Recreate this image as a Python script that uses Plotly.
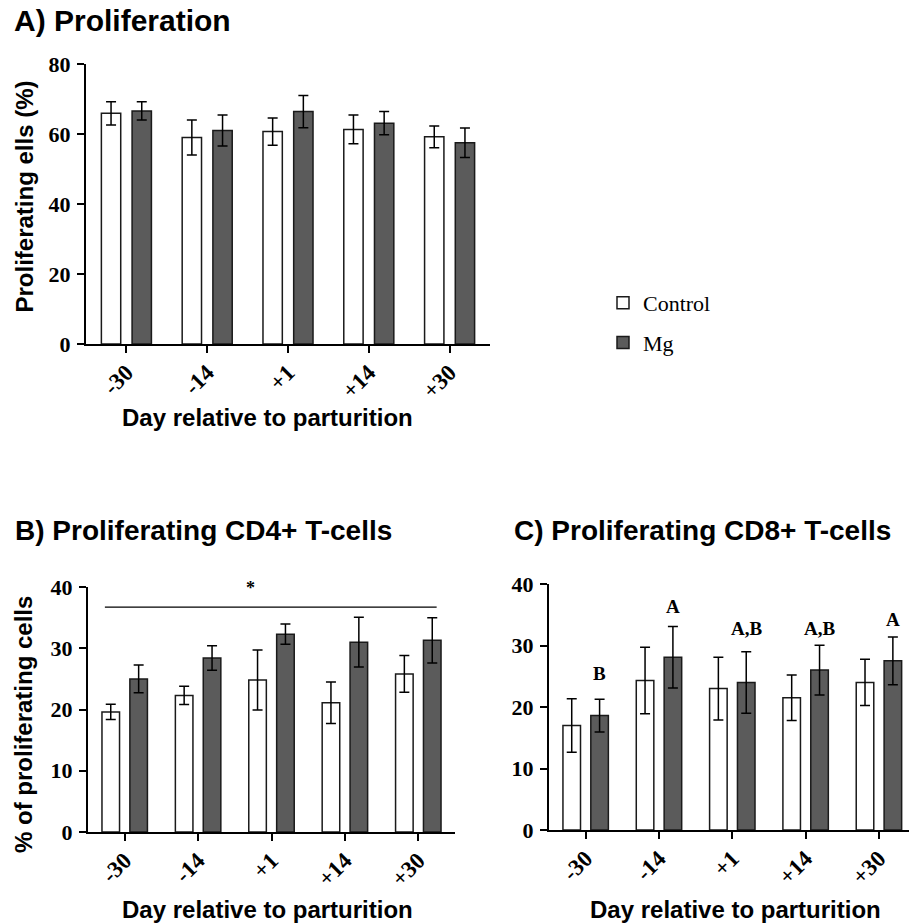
import plotly.graph_objects as go

# ---------------- data ----------------
days = ["-30", "-14", "+1", "+14", "+30"]

a_control = [65.9, 59.0, 60.7, 61.3, 59.2]
a_control_err = [3.3, 5.0, 3.9, 4.1, 3.1]
a_mg = [66.6, 61.0, 66.4, 63.1, 57.5]
a_mg_err = [2.6, 4.4, 4.6, 3.3, 4.2]

b_control = [19.6, 22.3, 24.8, 21.1, 25.8]
b_control_err = [1.25, 1.5, 4.9, 3.4, 3.0]
b_mg = [25.0, 28.4, 32.3, 31.0, 31.3]
b_mg_err = [2.25, 2.0, 1.65, 4.05, 3.7]

c_control = [17.0, 24.3, 23.0, 21.5, 24.0]
c_control_err = [4.35, 5.4, 5.1, 3.7, 3.75]
c_mg = [18.6, 28.1, 24.0, 26.0, 27.5]
c_mg_err = [2.65, 5.0, 5.0, 4.05, 3.9]

c_letters = ["B", "A", "A,B", "A,B", "A"]
c_letter_y = [25.5, 36.3, 32.8, 32.8, 34.3]

a_yticks = [0, 20, 40, 60, 80]
bc_yticks = [0, 10, 20, 30, 40]

sig_line = dict(x0=-0.27, x1=4.25, y=36.7)
sig_star = dict(x=1.71, y=39.8, text="*")

# ---------------- style ----------------
W, H = 909, 924
SANS = "Liberation Sans"
SERIF = "Liberation Serif"
MG_COLOR = "#5b5b5b"
EDGE = "#1a1a1a"


def px_x(p):
    return p / W


def px_y(p):
    return 1 - p / H


fig = go.Figure()


def add_pair(ctrl, ctrl_err, mg, mg_err, xa, ya, showlegend):
    fig.add_trace(go.Bar(
        x=days, y=ctrl, name="Control", legendgroup="control",
        showlegend=showlegend, xaxis=xa, yaxis=ya,
        marker=dict(color="white", line=dict(color=EDGE, width=1.5)),
        error_y=dict(type="data", array=ctrl_err, visible=True,
                     color="black", thickness=1.5, width=5),
    ))
    fig.add_trace(go.Bar(
        x=days, y=mg, name="Mg", legendgroup="mg",
        showlegend=showlegend, xaxis=xa, yaxis=ya,
        marker=dict(color=MG_COLOR, line=dict(color=EDGE, width=1.5)),
        error_y=dict(type="data", array=mg_err, visible=True,
                     color="black", thickness=1.5, width=5),
    ))


add_pair(a_control, a_control_err, a_mg, a_mg_err, "x", "y", True)
add_pair(b_control, b_control_err, b_mg, b_mg_err, "x2", "y2", False)
add_pair(c_control, c_control_err, c_mg, c_mg_err, "x3", "y3", False)

xtick_font = dict(family=SERIF, size=23, color="black", weight="bold")
ytick_font = dict(family=SERIF, size=22, color="black", weight="bold")

xcommon = dict(type="category", showline=True, linecolor="black", linewidth=2,
               ticks="outside", ticklen=7, tickwidth=2, tickcolor="black",
               tickangle=-45, tickfont=xtick_font, showgrid=False, zeroline=False,
               fixedrange=True, automargin=False, ticklabelstandoff=-3)
ycommon = dict(showline=True, linecolor="black", linewidth=2,
               ticks="outside", ticklen=7, tickwidth=2, tickcolor="black",
               tickfont=ytick_font, showgrid=False, zeroline=False,
               fixedrange=True, ticklabelstandoff=2, automargin=False)

fig.update_layout(
    width=W, height=H,
    margin=dict(l=0, r=0, t=0, b=0, autoexpand=False),
    paper_bgcolor="white", plot_bgcolor="white",
    barmode="group", bargap=0.24, bargroupgap=0.37,
    xaxis=dict(domain=[px_x(86), px_x(490)], anchor="y", range=[-0.5, 4.5], **xcommon),
    yaxis=dict(domain=[px_y(344), px_y(64)], anchor="x", range=[0, 80],
               tickvals=a_yticks, **ycommon),
    xaxis2=dict(domain=[px_x(88), px_x(455)], anchor="y2", range=[-0.5, 4.5], **xcommon),
    yaxis2=dict(domain=[px_y(832), px_y(587)], anchor="x2", range=[0, 40],
                tickvals=bc_yticks, **ycommon),
    xaxis3=dict(domain=[px_x(549), 1.0], anchor="y3", range=[-0.5, 4.41], **xcommon),
    yaxis3=dict(domain=[px_y(830), px_y(584)], anchor="x3", range=[0, 40],
                tickvals=bc_yticks, **ycommon),
    legend=dict(x=px_x(603), y=px_y(282), xanchor="left", yanchor="top",
                font=dict(family=SERIF, size=22, color="black"),
                tracegroupgap=8, bgcolor="rgba(0,0,0,0)"),
    showlegend=True,
)

annotations = []

# panel titles
for text, x, y, sz in [("A) Proliferation", 12, 21, 30),
                       ("B) Proliferating CD4+ T-cells", 13, 530, 28),
                       ("C) Proliferating CD8+ T-cells", 512, 530, 28)]:
    annotations.append(dict(text=text, x=px_x(x), y=px_y(y), xref="paper", yref="paper",
                            xanchor="left", yanchor="middle", showarrow=False,
                            font=dict(family=SANS, size=sz, color="black", weight="bold")))

# axis titles
for text, x, y, ang, ya in [("Proliferating ells (%)", 24, 196.5, -90, "middle"),
                            ("% of proliferating cells", 23, 725, -90, "middle"),
                            ("Day relative to parturition", 267.5, 418, 0, "middle"),
                            ("Day relative to parturition", 267, 924, 0, "bottom"),
                            ("Day relative to parturition", 735, 924, 0, "bottom")]:
    annotations.append(dict(text=text, x=px_x(x), y=px_y(y), xref="paper", yref="paper",
                            xanchor="center", yanchor=ya, textangle=ang,
                            showarrow=False, borderpad=0,
                            font=dict(family=SANS, size=24, color="black", weight="bold")))

# significance star (panel B)
annotations.append(dict(text=sig_star["text"], x=sig_star["x"], y=sig_star["y"],
                        xref="x2", yref="y2", showarrow=False,
                        font=dict(family=SERIF, size=18, color="black", weight="bold")))

# letters above Mg bars (panel C)
for i, (lab, ly) in enumerate(zip(c_letters, c_letter_y)):
    annotations.append(dict(text=lab, x=i + 0.19, y=ly, xref="x3", yref="y3",
                            showarrow=False,
                            font=dict(family=SERIF, size=19, color="black", weight="bold")))

fig.update_layout(annotations=annotations)

fig.add_shape(type="line", xref="x2", yref="y2",
              x0=sig_line["x0"], x1=sig_line["x1"], y0=sig_line["y"], y1=sig_line["y"],
              line=dict(color="black", width=1.3))

fig.write_html("out.html", config={"displayModeBar": False})
